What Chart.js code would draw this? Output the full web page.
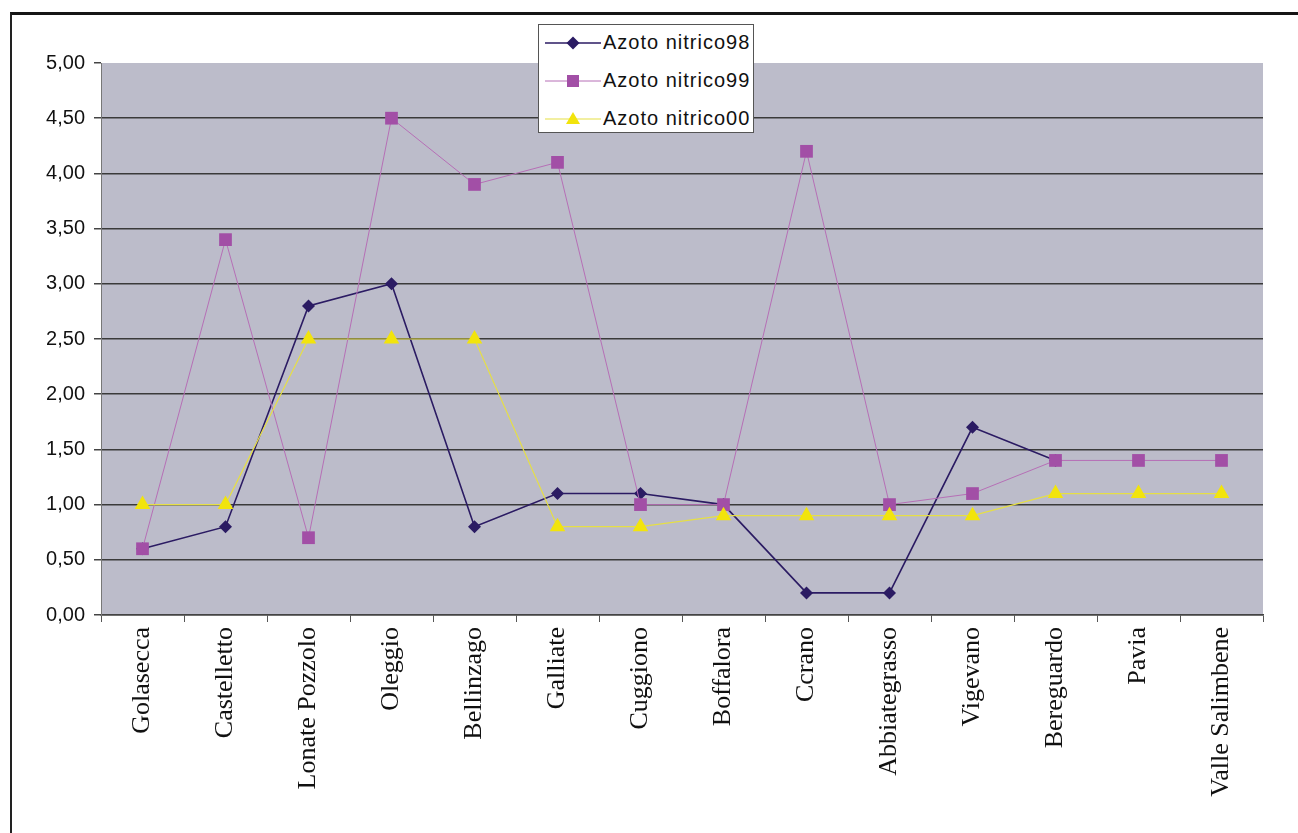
<!DOCTYPE html>
<html>
<head>
<meta charset="utf-8">
<script src="https://cdn.jsdelivr.net/npm/chart.js@4/dist/chart.umd.min.js"></script>
<style>
  html, body { margin: 0; padding: 0; background: #fff; }
  body { width: 1298px; height: 833px; position: relative; overflow: hidden; }
  #frame {
    position: absolute; left: 10px; top: 12px; width: 1300px; height: 830px;
    border-top: 3px solid #151515; border-left: 2px solid #222;
  }
  #wrap { position: absolute; left: 0; top: 0; width: 1298px; height: 833px; }
  #legend {
    position: absolute; left: 538px; top: 24px; width: 216px; height: 109px;
    background: #fff; border: 1px solid #555; box-sizing: border-box;
    font-family: "Liberation Sans", Arial, sans-serif; font-size: 20px; letter-spacing: 1px; color: #111;
  }
  .row { position: absolute; left: 0; height: 30px; width: 216px; }
  .row svg { position: absolute; left: 6px; top: 0; }
  .row span { position: absolute; left: 64px; top: 3px; white-space: nowrap; }
</style>
</head>
<body>
<div id="frame"></div>
<div id="wrap"><canvas id="c" width="1298" height="833"></canvas></div>
<div id="legend"></div>
<script>
// Monitoring stations along the river
const categories = ['Golasecca', 'Castelletto', 'Lonate Pozzolo', 'Oleggio', 'Bellinzago', 'Galliate',
  'Cuggiono', 'Boffalora', 'Ccrano', 'Abbiategrasso', 'Vigevano', 'Bereguardo', 'Pavia', 'Valle Salimbene'];

// Nitric nitrogen per year
const nitrico98 = [0.6, 0.8, 2.8, 3.0, 0.8, 1.1, 1.1, 1.0, 0.2, 0.2, 1.7, 1.4, null, null];
const nitrico99 = [0.6, 3.4, 0.7, 4.5, 3.9, 4.1, 1.0, 1.0, 4.2, 1.0, 1.1, 1.4, 1.4, 1.4];
const nitrico00 = [1.0, 1.0, 2.5, 2.5, 2.5, 0.8, 0.8, 0.9, 0.9, 0.9, 0.9, 1.1, 1.1, 1.1];

const seriesNames = ['Azoto nitrico98', 'Azoto nitrico99', 'Azoto nitrico00'];
const yTicks = [0, 0.5, 1, 1.5, 2, 2.5, 3, 3.5, 4, 4.5, 5];

const NAVY = '#2b1b63';
const PINK_LINE = '#b66fb6';
const PINK_FILL = '#a24fa6';
const YELLOW_LINE = '#e6df45';
const YELLOW_FILL = '#f2e40c';

const plotBg = {
  id: 'plotBg',
  beforeDraw(chart) {
    const { ctx, chartArea: a } = chart;
    ctx.save();
    ctx.fillStyle = '#bcbcca';
    ctx.fillRect(a.left, a.top, a.right - a.left, a.bottom - a.top);
    ctx.restore();
  }
};

new Chart(document.getElementById('c'), {
  type: 'line',
  data: {
    labels: categories,
    datasets: [
      {
        label: seriesNames[0], data: nitrico98, order: 3,
        borderColor: NAVY, borderWidth: 1.6, backgroundColor: NAVY,
        pointStyle: 'rectRot', pointRadius: 6.5, pointBorderWidth: 0, pointBackgroundColor: NAVY,
        tension: 0, spanGaps: false
      },
      {
        label: seriesNames[1], data: nitrico99, order: 2,
        borderColor: PINK_LINE, borderWidth: 1, backgroundColor: PINK_FILL,
        pointStyle: 'rect', pointRadius: 9, pointBorderWidth: 0, pointBackgroundColor: PINK_FILL,
        tension: 0
      },
      {
        label: seriesNames[2], data: nitrico00, order: 1,
        borderColor: YELLOW_LINE, borderWidth: 1.2, backgroundColor: YELLOW_FILL,
        pointStyle: 'triangle', pointRadius: 9, pointBorderWidth: 0, pointBackgroundColor: YELLOW_FILL,
        tension: 0
      }
    ]
  },
  options: {
    responsive: false,
    animation: false,
    layout: { padding: { top: 63, right: 35, bottom: 0, left: 0 } },
    plugins: { legend: { display: false }, tooltip: { enabled: false } },
    scales: {
      x: {
        offset: true,
        grid: { offset: true, drawOnChartArea: false, drawTicks: true, tickLength: 7, tickColor: '#555', lineWidth: 1 },
        border: { display: true, color: '#444', width: 1.5 },
        ticks: {
          autoSkip: false, minRotation: 90, maxRotation: 90, padding: 5, color: '#111',
          font: { family: '"Liberation Serif", "Times New Roman", serif', size: 26 }
        },
        afterFit(scale) { scale.height = 218; }
      },
      y: {
        min: 0, max: 5,
        afterBuildTicks(scale) { scale.ticks = yTicks.map(v => ({ value: v })); },
        grid: {
          color: ctx => (ctx.tick && ctx.tick.value === 5) ? 'rgba(0,0,0,0)' : '#3a3a3a',
          lineWidth: 1.5, tickLength: 7, tickColor: '#444'
        },
        border: { display: true, color: '#777', width: 1 },
        ticks: {
          padding: 9, color: '#111',
          font: { family: '"Liberation Sans", Arial, sans-serif', size: 20 },
          callback: v => Number(v).toFixed(2).replace('.', ',')
        },
        afterFit(scale) { scale.width = 101; }
      }
    }
  },
  plugins: [plotBg]
});

// Legend: sample line, marker and series name for each dataset
const legend = document.getElementById('legend');
const markers = [
  `<line x1="0" y1="15" x2="56" y2="15" stroke="${NAVY}" stroke-width="1.6"/>
   <polygon points="28,8.5 34.5,15 28,21.5 21.5,15" fill="${NAVY}"/>`,
  `<line x1="0" y1="15" x2="56" y2="15" stroke="${PINK_LINE}" stroke-width="1"/>
   <rect x="22" y="9" width="12" height="12" fill="${PINK_FILL}"/>`,
  `<line x1="0" y1="15" x2="56" y2="15" stroke="${YELLOW_LINE}" stroke-width="1.2"/>
   <polygon points="28,8 35,20 21,20" fill="${YELLOW_FILL}"/>`
];
const rowTops = [3, 41, 79];
seriesNames.forEach((name, i) => {
  const row = document.createElement('div');
  row.className = 'row';
  row.style.top = rowTops[i] + 'px';
  row.innerHTML = `<svg width="58" height="30">${markers[i]}</svg><span>${name}</span>`;
  legend.appendChild(row);
});
</script>
</body>
</html>
